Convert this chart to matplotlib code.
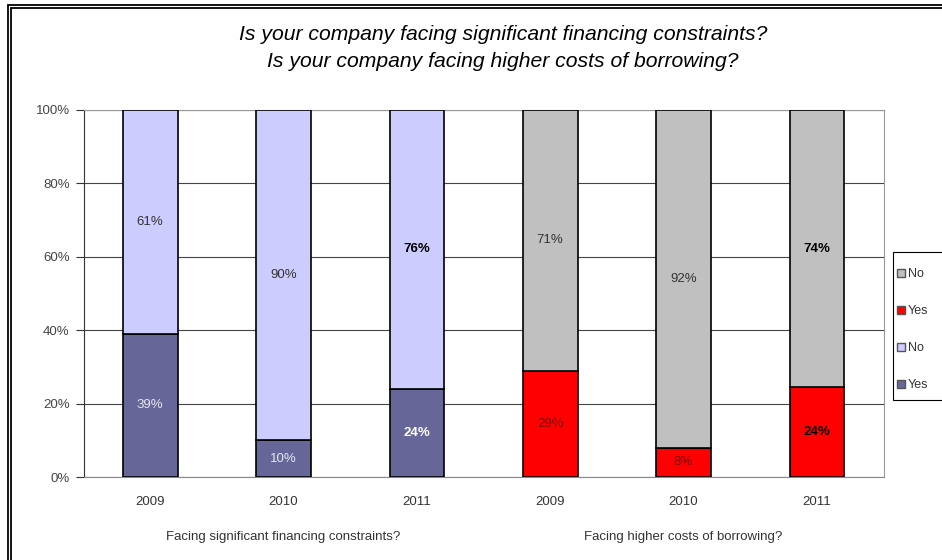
import matplotlib
matplotlib.use("Agg")
import matplotlib.pyplot as plt
from matplotlib.patches import Rectangle, Patch

years = ["2009", "2010", "2011", "2009", "2010", "2011"]
yes_values = [39, 10, 24, 29, 8, 24]
no_values = [61, 90, 76, 71, 92, 74]
group_labels = ["Facing significant financing constraints?", "Facing higher costs of borrowing?"]
title_lines = ["Is your company facing significant financing constraints?",
               "Is your company facing higher costs of borrowing?"]
y_ticks = [0, 20, 40, 60, 80, 100]

yes_colors = ["#666699"] * 3 + ["#FF0000"] * 3
no_colors = ["#CCCCFF"] * 3 + ["#C0C0C0"] * 3
yes_text = [("#E6E6F0", "normal"), ("#E6E6F0", "normal"), ("white", "bold"),
            ("#800000", "normal"), ("#800000", "normal"), ("black", "bold")]
no_text = [("#333333", "normal"), ("#333333", "normal"), ("black", "bold"),
           ("#333333", "normal"), ("#333333", "normal"), ("black", "bold")]

plt.rcParams["font.family"] = ["Liberation Sans", "DejaVu Sans"]

fig = plt.figure(figsize=(9.42, 5.6), dpi=100)
fig.patch.set_facecolor("white")

# double outer frame
for off in (8, 11):
    fig.add_artist(Rectangle((off / 942, -0.1), 1.2, 1.1 - (off - 3) / 560,
                             transform=fig.transFigure, fill=False,
                             edgecolor="black", linewidth=1.3))

ax = fig.add_axes([83.5 / 942, 83 / 560, 800 / 942, 367 / 560])
x = list(range(len(years)))
width = 0.41

# 100% stacked: each column is scaled to its own total
totals = [y + n for y, n in zip(yes_values, no_values)]
yes_share = [100 * y / t for y, t in zip(yes_values, totals)]
no_share = [100 * n / t for n, t in zip(no_values, totals)]

ax.bar(x, yes_share, width=width, color=yes_colors, edgecolor="black", linewidth=1.2, zorder=3)
ax.bar(x, no_share, width=width, bottom=yes_share, color=no_colors,
       edgecolor="black", linewidth=1.2, zorder=3)

for i in x:
    c, w = yes_text[i]
    ax.text(i, yes_share[i] / 2, f"{yes_values[i]}%", ha="center", va="center",
            color=c, fontweight=w, fontsize=9.5, zorder=4)
    c, w = no_text[i]
    ax.text(i, yes_share[i] + no_share[i] / 2, f"{no_values[i]}%", ha="center", va="center",
            color=c, fontweight=w, fontsize=9.5, zorder=4)

ax.set_xlim(-0.5, len(years) - 0.5)
ax.set_ylim(0, 100)
ax.set_yticks(y_ticks)
ax.set_yticklabels([f"{v}%" for v in y_ticks], color="#444444", fontsize=9.5)
ax.set_xticks(x)
ax.set_xticklabels(years, color="#333333", fontsize=9.5)
ax.tick_params(axis="x", length=0, pad=14)
ax.tick_params(axis="y", length=6, width=0.8, color="#333333", pad=4, direction="out")
ax.yaxis.grid(True, color="#444444", linewidth=0.8, zorder=0)
ax.set_axisbelow(True)
for side in ("top", "right"):
    ax.spines[side].set_color("#999999")
    ax.spines[side].set_linewidth(0.8)
ax.spines["left"].set_color("#333333")
ax.spines["bottom"].set_color("#888888")

# group captions under each set of years
for gi, label in enumerate(group_labels):
    ax.text(1 + 3 * gi, -16.3, label, ha="center", va="center", fontsize=9.5,
            color="#333333", transform=ax.transData, clip_on=False)

fig.text(503 / 942, 1 - 34 / 560, title_lines[0], ha="center", va="center",
         fontsize=15.2, style="italic")
fig.text(503 / 942, 1 - 61 / 560, title_lines[1], ha="center", va="center",
         fontsize=15.2, style="italic")

# legend box drawn separately so the entries can sit close to its left edge
fig.add_artist(Rectangle((893 / 942, 1 - 400 / 560), 0.2, 148 / 560,
                         transform=fig.transFigure, facecolor="white",
                         edgecolor="black", linewidth=0.8, zorder=5))
handles = [Patch(facecolor=no_colors[3], edgecolor="#555555", label="No"),
           Patch(facecolor=yes_colors[3], edgecolor="#555555", label="Yes"),
           Patch(facecolor=no_colors[0], edgecolor="#555555", label="No"),
           Patch(facecolor=yes_colors[0], edgecolor="#555555", label="Yes")]
leg = fig.legend(handles=handles, loc="upper left", bbox_to_anchor=(897 / 942, 1 - 268 / 560),
                 fontsize=9, frameon=False,
                 handlelength=0.6, handleheight=0.6, handletextpad=0.25,
                 labelspacing=2.0, borderpad=0, borderaxespad=0)
leg.set_zorder(6)
for t in leg.get_texts():
    t.set_color("#333333")

fig.savefig("out.png", dpi=100, facecolor="white")
